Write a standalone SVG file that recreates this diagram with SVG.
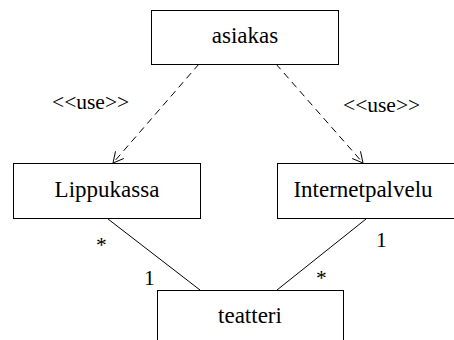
<svg xmlns="http://www.w3.org/2000/svg" width="454" height="340" viewBox="0 0 454 340">
  <style>
    .box { fill: #ffffff; stroke: #000000; stroke-width: 1; }
    .name { font-family: "Liberation Serif", "Times New Roman", serif; font-size: 23px; fill: #000000; text-anchor: middle; }
    .lbl { font-family: "Liberation Serif", "Times New Roman", serif; font-size: 21.5px; fill: #000000; }
    .dep { fill: none; stroke: #000000; stroke-width: 1; stroke-dasharray: 7,5; }
    .assoc { fill: none; stroke: #000000; stroke-width: 1; }
    .head { fill: none; stroke: #000000; stroke-width: 1; }
  </style>
  <rect width="454" height="340" fill="#ffffff"/>
  <g id="connectors">
    <line class="dep" x1="199" y1="64" x2="113" y2="163"/>
    <polyline class="head" points="115.5,151.3 113,163 123.8,158.5"/>
    <line class="dep" x1="276" y1="64" x2="363" y2="163"/>
    <polyline class="head" points="352.2,158.5 363,163 360.5,151.3"/>
    <line class="assoc" x1="108" y1="219" x2="200" y2="290"/>
    <line class="assoc" x1="366" y1="219" x2="277" y2="290"/>
    <text class="lbl" x="52" y="109">&lt;&lt;use&gt;&gt;</text>
    <text class="lbl" x="343" y="112">&lt;&lt;use&gt;&gt;</text>
    <text class="lbl" x="96" y="252">*</text>
    <text class="lbl" x="144" y="285">1</text>
    <text class="lbl" x="376" y="247">1</text>
    <text class="lbl" x="316" y="285">*</text>
  </g>
  <g id="asiakas">
    <rect class="box" x="151.5" y="10.5" width="187" height="54"/>
    <text class="name" x="245" y="43">asiakas</text>
  </g>
  <g id="lippukassa">
    <rect class="box" x="13.5" y="163.5" width="187" height="55"/>
    <text class="name" x="107" y="197">Lippukassa</text>
  </g>
  <g id="internetpalvelu">
    <rect class="box" x="277.5" y="163.5" width="187" height="55"/>
    <text class="name" x="363" y="197">Internetpalvelu</text>
  </g>
  <g id="teatteri">
    <rect class="box" x="157.5" y="290.5" width="186" height="60"/>
    <text class="name" x="250" y="323">teatteri</text>
  </g>
</svg>
